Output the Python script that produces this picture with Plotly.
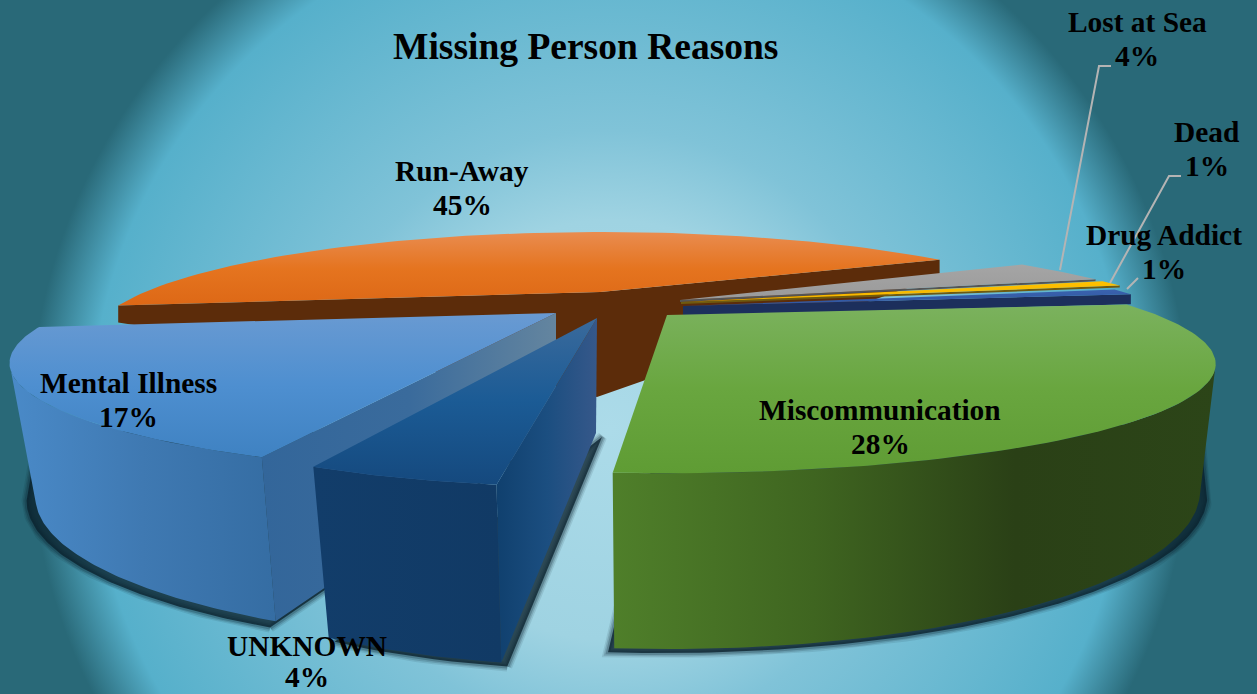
import math
import plotly.graph_objects as go

# ---- data ----
categories = ["Lost at Sea", "Dead", "Drug Addict", "Miscommunication", "UNKNOWN", "Mental Illness", "Run-Away"]
values = [4, 1, 1, 28, 4, 17, 45]
title_text = "Missing Person Reasons"

# ---- view / style ----
W, H = 1257, 694
K = 0.45
FIRST_ANGLE = 60.1
FONT = "Liberation Serif"
TANGENT = math.degrees(math.acos(-K))   # where a rim turns from the back to the front of the pie

def start_angles():
    out, a = [], FIRST_ANGLE
    for v in values:
        out.append((a, a + v * 360.0 / sum(values)))
        a += v * 360.0 / sum(values)
    return dict(zip(categories, out))

ANG = start_angles()

def pt(t, P):
    ax, ay, f, g = P
    r = math.radians(t)
    w = 1 + K * math.cos(r)
    return ax + f * math.sin(r) / w, ay - g * math.cos(r) / w

def arc(P, a, b, n=90):
    pts = [pt(a + (b - a) * i / n, P) for i in range(n + 1)]
    return [p[0] for p in pts], [p[1] for p in pts]

fig = go.Figure()

def poly(xs, ys, color=None, grad=None, gtype="horizontal", line=None):
    xs = list(xs) + [xs[0]]
    ys = list(ys) + [ys[0]]
    kw = {}
    if grad:
        if gtype == "vertical":      # the y axis runs downward
            grad = grad[::-1]
        n = len(grad) - 1
        kw["fillgradient"] = dict(type=gtype, colorscale=[[i / n, c] for i, c in enumerate(grad)])
    else:
        kw["fillcolor"] = color
    fig.add_trace(go.Scatter(x=xs, y=ys, mode="lines", fill="toself",
                             line=line or dict(width=0), hoverinfo="skip", showlegend=False, **kw))

def shadow(xs, ys):
    clear = "rgba(0,0,0,0)"
    poly(xs, ys, clear, line=dict(width=10, color="rgba(10,32,44,0.10)"))
    poly(xs, ys, clear, line=dict(width=7, color="rgba(10,32,44,0.16)"))
    poly(xs, ys, "rgba(10,32,44,0.78)", line=dict(width=4, color="rgba(10,32,44,0.24)"))

# background glow
C = (610, 430)
R = 800
poly([C[0]-R, C[0]+R, C[0]+R, C[0]-R], [C[1]-R, C[1]-R, C[1]+R, C[1]+R], color="#296978")
fig.data[-1].fillgradient = dict(type="radial", colorscale=[
    [0, "#acdbe9"], [0.2625, "#9fd3e2"], [0.375, "#80c3d8"], [0.65, "#56b0cb"], [0.726, "#296978"], [1, "#296978"]])
fig.data[-1].fillcolor = None

def slice_parts(name, turn, top, bot, hub=None):
    a, b = ANG[name]
    return a + turn, b + turn, top, bot, hub or (bot[0], bot[1])

# ---- Run-Away ----
a, b, top, bot, hub = slice_parts("Run-Away", 3.5, (600, 292, 455, 87), (600, 309, 455, 87), (597, 397))
p1, p2, q1, q2 = pt(a, top), pt(b, top), pt(a, bot), pt(b, bot)
poly([top[0], p1[0], q1[0], hub[0], q2[0], p2[0]], [top[1], p1[1], q1[1], hub[1], q2[1], p2[1]], "#5c2c0a")
x, y = arc(top, a, b)
poly(x + [top[0]], y + [top[1]], grad=["#e98c50", "#e5741f", "#dd6816"], gtype="vertical")

# ---- thin slices ----
for name, top, depth, side, col in [
    ("Lost at Sea", (680, 300, 483, 87), 2, "#555555", ["#a5a5a5", "#9a9a9a"]),
    ("Dead", (681, 302, 490, 87), 2, "#6e5a10", ["#ffc000", "#f2b600"]),
    ("Drug Addict", (683, 306, 482, 87), 10, "#1c2f5c", ["#3a62ae", "#2f55a0"]),
]:
    a, b = ANG[name]
    bot = (top[0], top[1] + depth, top[2], top[3])
    p, q = pt(b, top), pt(b, bot)
    poly([top[0], p[0], q[0], bot[0]], [top[1], p[1], q[1], bot[1]], side)
    x, y = arc(top, a, b, 10)
    poly(x + [top[0]], y + [top[1]], grad=col, gtype="vertical")

# ---- Miscommunication ----
a, b, top, bot, hub = slice_parts("Miscommunication", 1, (667, 315, 490, 87), (667, 420, 476, 126))
s = (662, 424, 487, 126)
x, y = arc(s, max(a, TANGENT), b)
e = pt(TANGENT, (s[0] - 8, s[1] - 70, s[2], s[3]))
shadow([e[0]] + x + [662], [e[1]] + y + [424])
x1, y1 = arc(top, max(a, TANGENT), b)
x2, y2 = arc(bot, max(a, TANGENT), b)
poly(x1 + x2[::-1], y1 + y2[::-1], grad=["#4f7f2a", "#3f6520", "#2a4016", "#2c4518"])
x1, y1 = arc(top, a, b)
poly(x1 + [top[0]], y1 + [top[1]], grad=["#7bb25e", "#69a63f", "#5f9c34"], gtype="vertical")

# ---- Mental Illness ----
LEFT = 360 - TANGENT
a, b, top, bot, hub = slice_parts("Mental Illness", 3.5, (556, 313, 488, 89), (556, 430, 465, 118))
s = (554, 433, 471, 120)
x, y = arc(s, a, min(b, LEFT))
e = pt(LEFT, (s[0] + 12, s[1] - 70, s[2], s[3]))
shadow(x + [e[0], 554], y + [e[1], 433])
x1, y1 = arc(top, a, min(b, LEFT))
x2, y2 = arc(bot, a, min(b, LEFT))
poly(x1 + x2[::-1], y1 + y2[::-1], grad=["#4a8ac8", "#3f79b2", "#356da3"])
p, q = pt(a, top), pt(a, bot)
poly([top[0], p[0], q[0], hub[0]], [top[1], p[1], q[1], hub[1]], grad=["#33669a", "#3a6b9c", "#64859f"])
x1, y1 = arc(top, a, b)
poly(x1 + [top[0]], y1 + [top[1]], grad=["#699ad2", "#4e8fd0", "#3f82c2"], gtype="vertical")

# ---- UNKNOWN ----
a, b, top, bot, hub = slice_parts("UNKNOWN", 4.6, (597, 318, 450, 93), (596, 433, 424, 128))
x, y = arc((602, 437, 424, 128), a, b, 10)
shadow(x + [602], y + [437])
p, q = pt(a, top), pt(a, bot)
poly([top[0], p[0], q[0], hub[0]], [top[1], p[1], q[1], hub[1]], grad=["#10406e", "#1b4e80", "#36588a"])
x1, y1 = arc(top, a, b, 20)
x2, y2 = arc(bot, a, b, 20)
poly(x1 + x2[::-1], y1 + y2[::-1], grad=["#123d6a", "#113a65"])
poly(x1 + [top[0]], y1 + [top[1]], grad=["#3a6a9c", "#1b5b95", "#15497e"], gtype="vertical")

# ---- leader lines ----
for lx, ly in [((1060, 1099, 1111), (270, 66, 66)),
               ((1110, 1169, 1181), (283, 176, 176)),
               ((1127, 1138), (289, 278))]:
    fig.add_trace(go.Scatter(x=lx, y=ly, mode="lines", line=dict(color="#b4b4b4", width=2),
                             hoverinfo="skip", showlegend=False))

# ---- labels ----
label_pos = {"Run-Away": (462, 171), "Miscommunication": (880, 410), "Mental Illness": (128, 383),
             "UNKNOWN": (307, 646), "Lost at Sea": (1137, 22), "Dead": (1207, 132), "Drug Addict": (1164, 235)}
SIZE = 29.4
anns = []
for name, v in zip(categories, values):
    lx, ly = label_pos[name]
    pct_y = min(ly + 34, H - 17)
    for txt, yy in ((name, ly), (f"{v}%", pct_y)):
        anns.append(dict(x=lx, y=yy, text=f"<b>{txt}</b>", showarrow=False, xanchor="center", yanchor="middle",
                         font=dict(family=FONT, size=SIZE, color="#000000")))
anns.append(dict(x=585, y=46, text=f"<b>{title_text}</b>", showarrow=False, xanchor="center", yanchor="middle",
                 font=dict(family=FONT, size=37.5, color="#000000")))

fig.update_layout(width=W, height=H, margin=dict(l=0, r=0, t=0, b=0), autosize=False,
                  paper_bgcolor="#296978", plot_bgcolor="#296978", annotations=anns,
                  xaxis=dict(range=[0, W], visible=False, fixedrange=True),
                  yaxis=dict(range=[H, 0], visible=False, fixedrange=True))
fig.write_html("out.html", post_script="document.body.style.margin='0';", config=dict(displayModeBar=False))
